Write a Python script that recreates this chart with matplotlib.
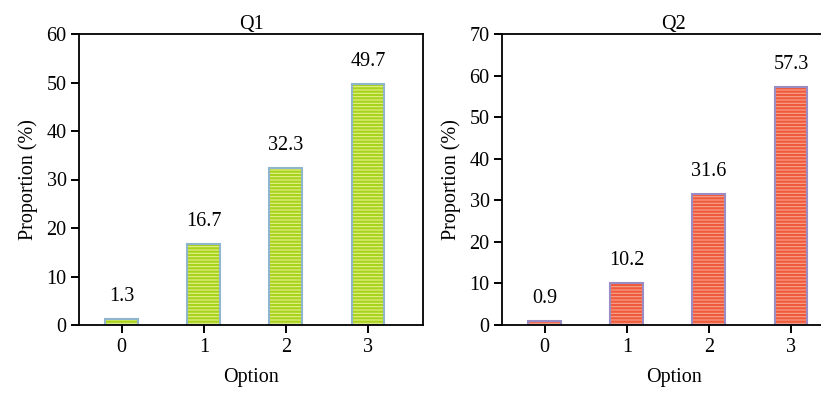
import matplotlib
matplotlib.use("Agg")
import matplotlib.pyplot as plt

options = [0, 1, 2, 3]
option_labels = ["0", "1", "2", "3"]
q1_values = [1.3, 16.7, 32.3, 49.7]
q2_values = [0.9, 10.2, 31.6, 57.3]
q1_labels = ["1.3", "16.7", "32.3", "49.7"]
q2_labels = ["0.9", "10.2", "31.6", "57.3"]

plt.rcParams['font.family'] = ['Liberation Serif', 'DejaVu Serif']
plt.rcParams['hatch.linewidth'] = 1.6

fig = plt.figure(figsize=(8.21, 3.96), dpi=100)
W, H = 821, 396

def make_ax(x0, x1, y0, y1):
    return fig.add_axes([x0 / W, 1 - y1 / H, (x1 - x0) / W, (y1 - y0) / H])

ax1 = make_ax(79, 423, 34, 325)
ax2 = make_ax(502, 846, 34, 325)

FS = 14.5

def draw(ax, vals, labels, title, ymax, face, hatchc, edge):
    ax.bar(options, vals, width=0.4, color=face, edgecolor=hatchc, hatch='-----', linewidth=0)
    ax.bar(options, vals, width=0.4, fill=False, edgecolor=edge, linewidth=1.5)
    for x, v, l in zip(options, vals, labels):
        ax.text(x, v + ymax * 0.045, l, ha='center', va='bottom', fontsize=FS)
    ax.set_xlim(-0.52, 3.67)
    ax.set_ylim(0, ymax)
    ax.set_yticks(range(0, ymax + 1, 10))
    ax.set_xticks(options)
    ax.set_xticklabels(option_labels)
    ax.tick_params(labelsize=FS, direction='out', length=6, width=1.4, pad=3)
    for s in ax.spines.values():
        s.set_linewidth(1.3)
    ax.set_title(title, fontsize=FS, pad=3)
    ax.set_xlabel("Option", fontsize=FS, labelpad=8)
    ax.set_ylabel("Proportion (%)", fontsize=FS, labelpad=6)

draw(ax1, q1_values, q1_labels, "Q1", 60, '#e6f08c', '#a8d31c', '#8fb6cc')
draw(ax2, q2_values, q2_labels, "Q2", 70, '#f7a48c', '#f05a3c', '#9a8cc4')

fig.savefig("out.png", dpi=100)
